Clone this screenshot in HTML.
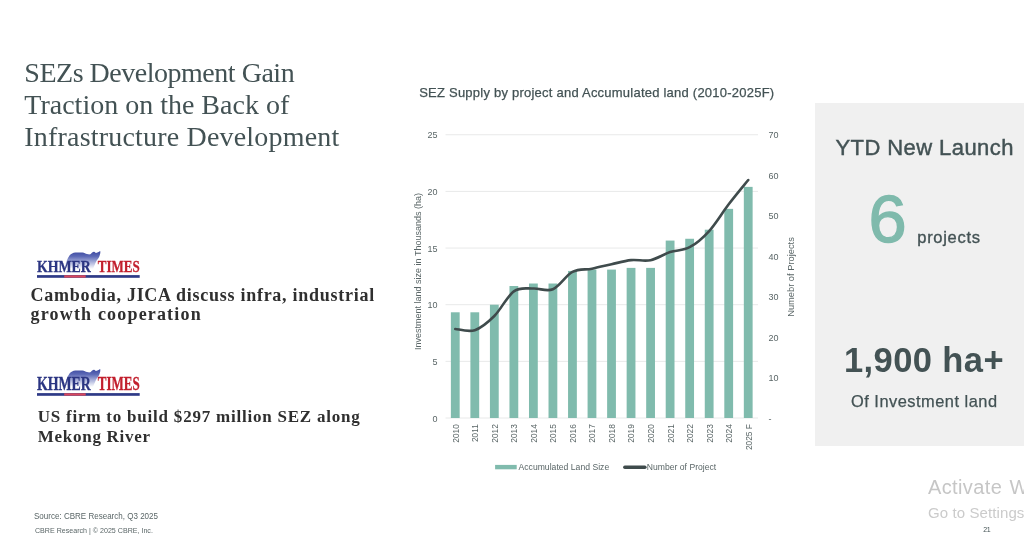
<!DOCTYPE html>
<html><head><meta charset="utf-8"><title>SEZs Development</title>
<style>
html,body{margin:0;padding:0;background:#fff;}
body{width:1024px;height:544px;position:relative;overflow:hidden;font-family:"Liberation Sans",sans-serif;color:#435254;}
.abs{position:absolute;white-space:nowrap;}
#title{left:24.3px;top:56.5px;font-family:"Liberation Serif",serif;font-size:28px;line-height:32px;color:#435254;}
#title span{display:block;white-space:nowrap;}
.hl{font-family:"Liberation Serif",serif;font-weight:bold;font-size:18px;line-height:19.4px;color:#2f2f2f;letter-spacing:0.72px;}
.logo{position:absolute;left:36px;}
.kt{font-family:"Liberation Serif",serif;font-weight:bold;font-size:17.5px;stroke-width:0.3px;}
#ctitle{left:419.2px;top:85px;font-size:13px;letter-spacing:0.23px;color:#435254;-webkit-text-stroke:0.25px #435254;}
svg text{font-family:"Liberation Sans",sans-serif;fill:#5a6667;}
.ax{font-size:9px;}
.xl{font-size:9.4px;}
.at{font-size:9px;}
.lg{font-size:8.6px;letter-spacing:0.02px;}
#panel{left:814.7px;top:103.4px;width:210px;height:342.6px;background:#f0f0f0;}
#ytd{left:835.5px;top:134.7px;font-size:22px;letter-spacing:0.42px;color:#435254;-webkit-text-stroke:0.45px #435254;}
#six{left:869.4px;top:181.2px;font-size:66.6px;line-height:76px;color:#7fbaac;-webkit-text-stroke:1.3px #7fbaac;transform:scaleX(1.03);transform-origin:50% 50%;}
#proj{left:917.3px;top:227.8px;font-size:16.5px;letter-spacing:0.7px;color:#435254;-webkit-text-stroke:0.35px #435254;}
#ha{left:844px;top:340.5px;font-size:34.5px;font-weight:bold;letter-spacing:0.4px;color:#435254;}
#ofl{left:851px;top:392.4px;font-size:16.4px;letter-spacing:0.5px;color:#435254;-webkit-text-stroke:0.25px #435254;}
#src{left:34.3px;top:510.7px;font-size:9.3px;color:#5a6667;transform:scaleX(0.863);transform-origin:0 0;}
#cpy{left:35.2px;top:526.2px;font-size:7.4px;color:#5a6667;transform:scaleX(0.96);transform-origin:0 0;}
#pg{left:983.3px;top:526px;font-size:7px;letter-spacing:-0.4px;color:#435254;}
#act{left:928px;top:476.2px;font-size:20px;letter-spacing:0.38px;word-spacing:1.5px;color:#c6c6c6;}
#gts{left:928px;top:503.5px;font-size:15px;letter-spacing:0.1px;color:#cbcbcb;}
</style></head><body>
<div id="title" class="abs"><span id="t1" style="letter-spacing:-0.48px">SEZs Development Gain</span><span id="t2">Traction on the Back of</span><span id="t3" style="letter-spacing:0.19px">Infrastructure Development</span></div>
<svg class="logo" style="top:244px" width="112" height="38" viewBox="0 0 112 38">
<defs><linearGradient id="g1" gradientUnits="userSpaceOnUse" x1="0" y1="7" x2="0" y2="25"><stop offset="0" stop-color="#3a479f"/><stop offset="0.3" stop-color="#5c69b6"/><stop offset="0.62" stop-color="#a9b0da"/><stop offset="1" stop-color="#ffffff"/></linearGradient></defs>
<path d="M29,23 C30,18.5 31.1,14.8 33.7,11.3 C35,9.6 37,8.6 39.4,8.4 L46.5,8.4 C48.5,8.6 49.5,9.6 51,10 C52.5,10.4 53.4,10.6 54.2,10.3 C55,9.8 55.4,8.8 56.2,8.4 C57,7.9 57.6,7.7 58.1,7.8 C59,8 59.4,8.9 60,9 C61,9 61.8,8.5 62.6,8.1 L64.2,7.1 C64.5,8.4 64.3,9.6 63.9,10.7 C63.5,12 63.2,13 62.6,13.9 C62,15 61.3,15.6 60.7,16.4 C59,19.5 57.5,23.5 56.2,27.5 L52,27.5 Z" fill="url(#g1)"/>
<text transform="translate(0.9,27.8) scale(0.793,1)" class="kt" style="fill:#2b3582;stroke:#2b3582;font-size:17.5px">KHMER</text>
<text transform="translate(61.7,27.8) scale(0.745,1)" class="kt" style="fill:#c21f2d;stroke:#c21f2d;font-size:17.5px">TIMES</text>
<rect x="1" y="31.1" width="102.7" height="2.7" fill="#2e3a87"/>
<rect x="28.2" y="31.3" width="21.5" height="2.3" fill="#d9475c"/>
</svg>
<div id="h1" class="abs hl" style="left:30.6px;top:286px"><span id="h1a" style="letter-spacing:0.73px">Cambodia, JICA discuss infra, industrial</span><br><span id="h1b" style="letter-spacing:1.17px">growth cooperation</span></div>
<svg class="logo" style="top:362.3px" width="112" height="38" viewBox="0 0 112 38">
<defs><linearGradient id="g2" gradientUnits="userSpaceOnUse" x1="0" y1="7" x2="0" y2="25"><stop offset="0" stop-color="#3a479f"/><stop offset="0.3" stop-color="#5c69b6"/><stop offset="0.62" stop-color="#a9b0da"/><stop offset="1" stop-color="#ffffff"/></linearGradient></defs>
<path d="M29,23 C30,18.5 31.1,14.8 33.7,11.3 C35,9.6 37,8.6 39.4,8.4 L46.5,8.4 C48.5,8.6 49.5,9.6 51,10 C52.5,10.4 53.4,10.6 54.2,10.3 C55,9.8 55.4,8.8 56.2,8.4 C57,7.9 57.6,7.7 58.1,7.8 C59,8 59.4,8.9 60,9 C61,9 61.8,8.5 62.6,8.1 L64.2,7.1 C64.5,8.4 64.3,9.6 63.9,10.7 C63.5,12 63.2,13 62.6,13.9 C62,15 61.3,15.6 60.7,16.4 C59,19.5 57.5,23.5 56.2,27.5 L52,27.5 Z" fill="url(#g2)"/>
<text transform="translate(0.9,27.8) scale(0.742,1)" class="kt" style="fill:#2b3582;stroke:#2b3582;font-size:18.7px">KHMER</text>
<text transform="translate(61.7,27.8) scale(0.697,1)" class="kt" style="fill:#c21f2d;stroke:#c21f2d;font-size:18.7px">TIMES</text>
<rect x="1" y="31.1" width="102.7" height="2.7" fill="#2e3a87"/>
<rect x="28.2" y="31.3" width="21.5" height="2.3" fill="#d9475c"/>
</svg>
<div id="h2" class="abs hl" style="left:37.8px;top:407.4px;font-size:17px;line-height:19.5px"><span id="h2a" style="letter-spacing:0.78px">US firm to build $297 million SEZ along</span><br><span id="h2b" style="letter-spacing:0.72px">Mekong River</span></div>
<div id="ctitle" class="abs">SEZ Supply by project and Accumulated land (2010-2025F)</div>
<svg class="abs" style="left:0;top:0" width="1024" height="544" viewBox="0 0 1024 544">
<line x1="445.5" x2="758.0" y1="418.00" y2="418.00" stroke="#e8e9e9" stroke-width="1"/>
<line x1="445.5" x2="758.0" y1="361.35" y2="361.35" stroke="#e8e9e9" stroke-width="1"/>
<line x1="445.5" x2="758.0" y1="304.70" y2="304.70" stroke="#e8e9e9" stroke-width="1"/>
<line x1="445.5" x2="758.0" y1="248.05" y2="248.05" stroke="#e8e9e9" stroke-width="1"/>
<line x1="445.5" x2="758.0" y1="191.40" y2="191.40" stroke="#e8e9e9" stroke-width="1"/>
<line x1="445.5" x2="758.0" y1="134.75" y2="134.75" stroke="#e8e9e9" stroke-width="1"/>
<rect x="450.87" y="312.29" width="8.8" height="105.71" fill="#80bbad"/>
<rect x="470.40" y="312.29" width="8.8" height="105.71" fill="#80bbad"/>
<rect x="489.93" y="304.70" width="8.8" height="113.30" fill="#80bbad"/>
<rect x="509.46" y="286.01" width="8.8" height="131.99" fill="#80bbad"/>
<rect x="528.99" y="283.51" width="8.8" height="134.49" fill="#80bbad"/>
<rect x="548.52" y="283.51" width="8.8" height="134.49" fill="#80bbad"/>
<rect x="568.05" y="270.94" width="8.8" height="147.06" fill="#80bbad"/>
<rect x="587.58" y="269.58" width="8.8" height="148.42" fill="#80bbad"/>
<rect x="607.12" y="269.58" width="8.8" height="148.42" fill="#80bbad"/>
<rect x="626.65" y="267.88" width="8.8" height="150.12" fill="#80bbad"/>
<rect x="646.18" y="267.88" width="8.8" height="150.12" fill="#80bbad"/>
<rect x="665.71" y="240.57" width="8.8" height="177.43" fill="#80bbad"/>
<rect x="685.24" y="238.76" width="8.8" height="179.24" fill="#80bbad"/>
<rect x="704.77" y="229.70" width="8.8" height="188.30" fill="#80bbad"/>
<rect x="724.30" y="208.85" width="8.8" height="209.15" fill="#80bbad"/>
<rect x="743.83" y="186.87" width="8.8" height="231.13" fill="#80bbad"/>
<path d="M455.27,328.96 C458.52,329.17 468.29,332.34 474.80,330.18 C481.31,328.02 487.82,322.49 494.33,316.01 C500.84,309.54 507.35,295.91 513.86,291.32 C520.37,286.74 526.88,288.83 533.39,288.49 C539.90,288.15 546.41,292.07 552.92,289.30 C559.43,286.54 565.94,275.34 572.45,271.90 C578.96,268.46 585.47,269.94 591.98,268.66 C598.49,267.38 605.01,265.63 611.52,264.21 C618.03,262.79 624.54,260.84 631.05,260.16 C637.56,259.49 644.07,261.51 650.58,260.16 C657.09,258.81 663.60,254.23 670.11,252.07 C676.62,249.91 683.13,250.72 689.64,247.21 C696.15,243.70 702.66,238.17 709.17,231.02 C715.68,223.87 722.19,212.81 728.70,204.31 C735.21,195.81 744.98,184.08 748.23,180.03" fill="none" stroke="#3f4b4c" stroke-width="2.6" stroke-linecap="round" stroke-linejoin="round"/>
<text x="437.5" y="421.70" text-anchor="end" class="ax">0</text>
<text x="437.5" y="365.05" text-anchor="end" class="ax">5</text>
<text x="437.5" y="308.40" text-anchor="end" class="ax">10</text>
<text x="437.5" y="251.75" text-anchor="end" class="ax">15</text>
<text x="437.5" y="195.10" text-anchor="end" class="ax">20</text>
<text x="437.5" y="138.45" text-anchor="end" class="ax">25</text>
<text x="768.5" y="421.70" text-anchor="start" class="ax">-</text>
<text x="768.5" y="381.23" text-anchor="start" class="ax">10</text>
<text x="768.5" y="340.76" text-anchor="start" class="ax">20</text>
<text x="768.5" y="300.29" text-anchor="start" class="ax">30</text>
<text x="768.5" y="259.81" text-anchor="start" class="ax">40</text>
<text x="768.5" y="219.34" text-anchor="start" class="ax">50</text>
<text x="768.5" y="178.87" text-anchor="start" class="ax">60</text>
<text x="768.5" y="138.40" text-anchor="start" class="ax">70</text>
<text transform="translate(458.67,424.1) rotate(-90) scale(0.89,1)" text-anchor="end" class="xl">2010</text>
<text transform="translate(478.20,424.1) rotate(-90) scale(0.89,1)" text-anchor="end" class="xl">2011</text>
<text transform="translate(497.73,424.1) rotate(-90) scale(0.89,1)" text-anchor="end" class="xl">2012</text>
<text transform="translate(517.26,424.1) rotate(-90) scale(0.89,1)" text-anchor="end" class="xl">2013</text>
<text transform="translate(536.79,424.1) rotate(-90) scale(0.89,1)" text-anchor="end" class="xl">2014</text>
<text transform="translate(556.32,424.1) rotate(-90) scale(0.89,1)" text-anchor="end" class="xl">2015</text>
<text transform="translate(575.85,424.1) rotate(-90) scale(0.89,1)" text-anchor="end" class="xl">2016</text>
<text transform="translate(595.38,424.1) rotate(-90) scale(0.89,1)" text-anchor="end" class="xl">2017</text>
<text transform="translate(614.92,424.1) rotate(-90) scale(0.89,1)" text-anchor="end" class="xl">2018</text>
<text transform="translate(634.45,424.1) rotate(-90) scale(0.89,1)" text-anchor="end" class="xl">2019</text>
<text transform="translate(653.98,424.1) rotate(-90) scale(0.89,1)" text-anchor="end" class="xl">2020</text>
<text transform="translate(673.51,424.1) rotate(-90) scale(0.89,1)" text-anchor="end" class="xl">2021</text>
<text transform="translate(693.04,424.1) rotate(-90) scale(0.89,1)" text-anchor="end" class="xl">2022</text>
<text transform="translate(712.57,424.1) rotate(-90) scale(0.89,1)" text-anchor="end" class="xl">2023</text>
<text transform="translate(732.10,424.1) rotate(-90) scale(0.89,1)" text-anchor="end" class="xl">2024</text>
<text transform="translate(751.63,424.1) rotate(-90) scale(0.89,1)" text-anchor="end" class="xl">2025 F</text>
<text transform="translate(421.2,271.5) rotate(-90)" text-anchor="middle" class="at">Investment land size in Thousands (ha)</text>
<text transform="translate(793.8,277) rotate(-90) scale(1.035,1)" text-anchor="middle" class="at">Numebr of Projects</text>
<rect x="495.1" y="464.9" width="21.6" height="4.4" fill="#80bbad"/>
<text x="518.5" y="470.3" class="lg">Accumulated Land Size</text>
<line x1="624.8" x2="644.9" y1="467.2" y2="467.2" stroke="#3f4b4c" stroke-width="3.4" stroke-linecap="round"/>
<text x="646.7" y="470.3" class="lg">Number of Project</text>
</svg>
<div id="panel" class="abs"></div>
<div id="ytd" class="abs">YTD New Launch</div>
<div id="six" class="abs">6</div>
<div id="proj" class="abs">projects</div>
<div id="ha" class="abs">1,900 ha+</div>
<div id="ofl" class="abs">Of Investment land</div>
<div id="src" class="abs">Source: CBRE Research, Q3 2025</div>
<div id="cpy" class="abs">CBRE Research | © 2025 CBRE, Inc.</div>
<div id="act" class="abs">Activate Windows</div>
<div id="gts" class="abs">Go to Settings to activate Windows.</div>
<div id="pg" class="abs">21</div>
</body></html>
